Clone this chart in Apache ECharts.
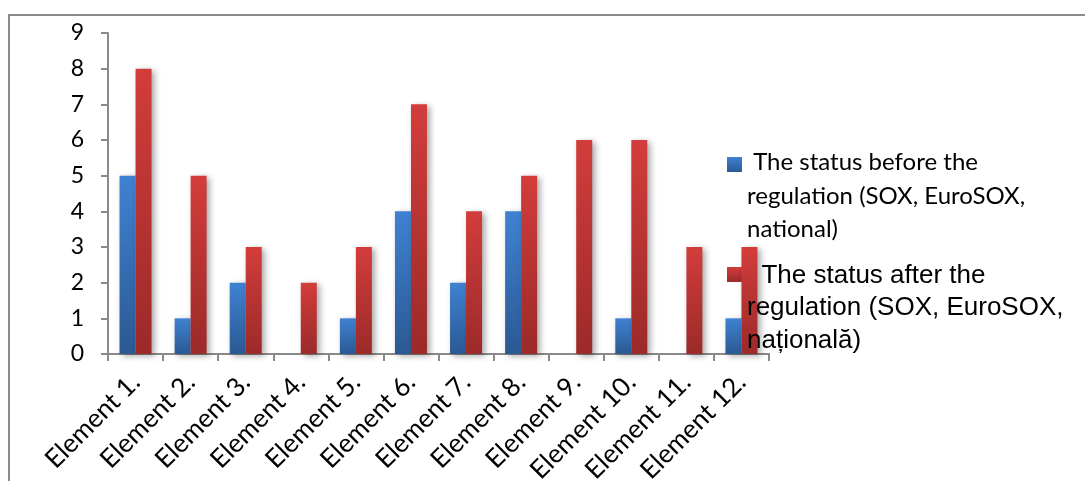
<!DOCTYPE html>
<html>
<head>
<meta charset="utf-8">
<script src="https://cdn.jsdelivr.net/npm/echarts@6/dist/echarts.min.js"></script>
<style>
  html, body { margin: 0; padding: 0; background: #fff; }
  #chart { width: 1085px; height: 481px; }
</style>
</head>
<body>
<div id="chart"></div>
<script>
// Categories and the two status series
const categories = ['Element 1.', 'Element 2.', 'Element 3.', 'Element 4.', 'Element 5.', 'Element 6.',
  'Element 7.', 'Element 8.', 'Element 9.', 'Element 10.', 'Element 11.', 'Element 12.'];
const beforeValues = [5, 1, 2, 0, 1, 4, 2, 4, 0, 1, 0, 1];
const afterValues = [8, 5, 3, 2, 3, 7, 4, 5, 6, 6, 3, 3];
const yTicks = [0, 1, 2, 3, 4, 5, 6, 7, 8, 9];

const beforeName = 'The status before the regulation (SOX, EuroSOX, national)';
const afterName = 'The status after the regulation (SOX, EuroSOX, națională)';
const beforeLegendText = ' The status before the\nregulation (SOX, EuroSOX,\nnational)';
const afterLegendText = '  The status after the\nregulation (SOX, EuroSOX,\nnațională)';

const axisGray = '#8a8a8a';
const blueTop = '#3f82d2', blueBottom = '#2b5993';
const redTop = '#d23d3b', redBottom = '#9b2a29';

function vGrad(top, bottom) {
  return new echarts.graphic.LinearGradient(0, 0, 0, 1, [
    { offset: 0, color: top },
    { offset: 1, color: bottom }
  ]);
}

const chart = echarts.init(document.getElementById('chart'), null, { renderer: 'canvas' });

// Legend swatch sits beneath the bars, legend text on top of them
function legendEntry(color, iconY, text, textCenterY, font, lineHeight) {
  return [{
    type: 'rect',
    shape: { x: 727, y: iconY, width: 15, height: 15 },
    style: { fill: color },
    z: 0,
    silent: true
  }, {
    type: 'text',
    x: 747,
    y: textCenterY,
    style: {
      text: text,
      font: font,
      lineHeight: lineHeight,
      fill: '#000',
      verticalAlign: 'middle',
      align: 'left'
    },
    z: 100,
    silent: true
  }];
}

chart.setOption({
  animation: false,
  backgroundColor: '#ffffff',
  graphic: [{
    type: 'rect',
    shape: { x: 9, y: 15, width: 1200, height: 600 },
    style: { fill: 'none', stroke: '#8c8c8c', lineWidth: 2 },
    silent: true,
    z: -10
  }].concat(
    legendEntry(vGrad(blueTop, blueBottom), 157, beforeLegendText, 196, '24px Lato', 33.5),
    legendEntry(vGrad(redTop, redBottom), 267, afterLegendText, 308, '26px "Liberation Sans"', 32.5)
  ),
  grid: {
    left: 108, right: 316, top: 33, bottom: 127,
    containLabel: false,
    outerBoundsMode: 'none'
  },
  xAxis: {
    type: 'category',
    data: categories,
    axisLine: { lineStyle: { color: axisGray, width: 2 } },
    axisTick: { show: true, length: 7, lineStyle: { color: axisGray, width: 2 } },
    axisLabel: {
      rotate: 45, margin: 24, interval: 0,
      fontFamily: 'Lato', fontSize: 26, color: '#000'
    },
    splitLine: { show: false }
  },
  yAxis: {
    type: 'value',
    min: yTicks[0],
    max: yTicks[yTicks.length - 1],
    interval: 1,
    axisLine: { show: true, lineStyle: { color: axisGray, width: 2 } },
    axisTick: { show: true, length: 7, lineStyle: { color: axisGray, width: 2 } },
    axisLabel: { margin: 24, fontFamily: 'Lato', fontSize: 23, color: '#000' },
    splitLine: { show: false }
  },
  series: [{
    name: beforeName,
    type: 'bar',
    data: beforeValues,
    barWidth: 16,
    barGap: '0%',
    itemStyle: {
      color: vGrad(blueTop, blueBottom),
      shadowColor: 'rgba(0,0,0,0.35)',
      shadowBlur: 6,
      shadowOffsetX: 3,
      shadowOffsetY: 2
    }
  }, {
    name: afterName,
    type: 'bar',
    data: afterValues,
    barWidth: 16,
    barGap: '0%',
    itemStyle: {
      color: vGrad(redTop, redBottom),
      shadowColor: 'rgba(0,0,0,0.35)',
      shadowBlur: 6,
      shadowOffsetX: 3,
      shadowOffsetY: 2
    }
  }]
});
</script>
</body>
</html>
